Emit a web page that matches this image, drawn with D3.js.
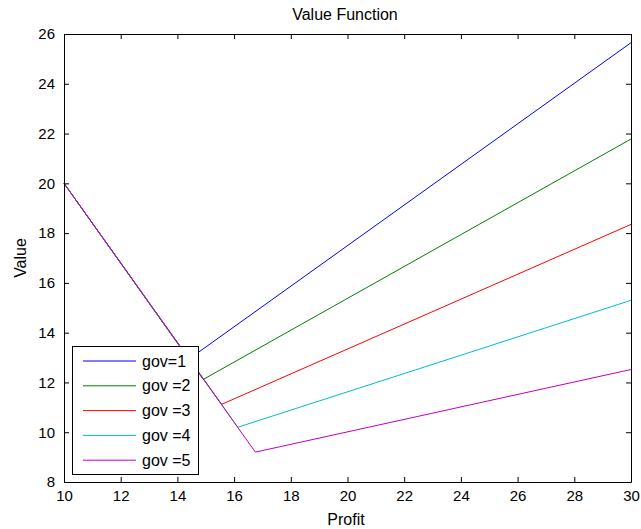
<!DOCTYPE html>
<html>
<head>
<meta charset="utf-8">
<script src="https://cdn.jsdelivr.net/npm/d3@7.9.0/dist/d3.min.js"></script>
<style>
  body { margin: 0; background: #fff; }
  svg { font-family: "Liberation Sans", Arial, sans-serif; }
</style>
</head>
<body>
<svg id="chart" width="641" height="529"></svg>
<script>
const labels = ["gov=1", "gov =2", "gov =3", "gov =4", "gov =5"];
const colors = ["#0000ff", "#008000", "#ff0000", "#00bfbf", "#bf00bf"];
// each series: profit points and matching values
const profitPts = [
  [10, 14.41, 30],
  [10, 14.91, 30],
  [10, 15.56, 30],
  [10, 16.13, 30],
  [10, 16.75, 30],
];
const valuePts = [
  [20, 12.94, 25.65],
  [20, 12.12, 21.78],
  [20, 11.12, 18.35],
  [20, 10.2, 15.3],
  [20, 9.2, 12.52],
];
const xTicks = d3.range(10, 31, 2);
const yTicks = d3.range(8, 27, 2);

const svg = d3.select("#chart");
const mLeft = 64, mRight = 631, mTop = 34, mBottom = 482;

const x = d3.scaleLinear().domain([10, 30]).range([mLeft, mRight]);
const y = d3.scaleLinear().domain([8, 26]).range([mBottom, mTop]);

const line = d3.line().x((d) => x(d[0])).y((d) => y(d[1]));

const series = labels.map((name, i) => ({
  name,
  color: colors[i],
  pts: profitPts[i].map((p, j) => [p, valuePts[i][j]]),
}));

svg.append("g")
  .selectAll("path")
  .data(series)
  .join("path")
  .attr("d", (d) => line(d.pts))
  .attr("fill", "none")
  .attr("stroke", (d) => d.color)
  .attr("stroke-width", 1);

// axes, ticks pointing inward
const tk = 5;
svg.append("g").attr("transform", `translate(0,${mBottom})`)
  .call(d3.axisBottom(x).tickValues(xTicks).tickSizeInner(-tk).tickSizeOuter(0).tickPadding(8));
svg.append("g").attr("transform", `translate(0,${mTop})`)
  .call(d3.axisTop(x).tickValues(xTicks).tickSizeInner(-tk).tickSizeOuter(0).tickFormat(""));
svg.append("g").attr("transform", `translate(${mLeft},0)`)
  .call(d3.axisLeft(y).tickValues(yTicks).tickSizeInner(-tk).tickSizeOuter(0).tickPadding(9));
svg.append("g").attr("transform", `translate(${mRight},0)`)
  .call(d3.axisRight(y).tickValues(yTicks).tickSizeInner(-tk).tickSizeOuter(0).tickFormat(""));

svg.selectAll(".tick text").attr("font-size", 15).attr("font-family", "Liberation Sans, Arial, sans-serif").attr("fill", "#000");
svg.selectAll(".domain").attr("stroke", "#000");
svg.selectAll(".tick line").attr("stroke", "#000");

// title and axis labels
svg.append("text").attr("x", 345).attr("y", 20)
  .attr("text-anchor", "middle").attr("font-size", 16).text("Value Function");
svg.append("text").attr("x", 346).attr("y", 525)
  .attr("text-anchor", "middle").attr("font-size", 16).text("Profit");
svg.append("text").attr("transform", `translate(26,${(mTop + mBottom) / 2}) rotate(-90)`)
  .attr("text-anchor", "middle").attr("font-size", 16).text("Value");

// legend
const lg = svg.append("g");
lg.append("rect").attr("x", 72.5).attr("y", 346.5).attr("width", 126).attr("height", 128)
  .attr("fill", "#fff").attr("stroke", "#000");
const row = lg.selectAll("g.row").data(series).join("g")
  .attr("transform", (d, i) => `translate(0,${361 + i * 24.8})`);
row.append("line").attr("x1", 83).attr("x2", 136)
  .attr("stroke", (d) => d.color);
row.append("text").attr("x", 142).attr("y", 5.5).attr("font-size", 16).text((d) => d.name);
</script>
</body>
</html>
